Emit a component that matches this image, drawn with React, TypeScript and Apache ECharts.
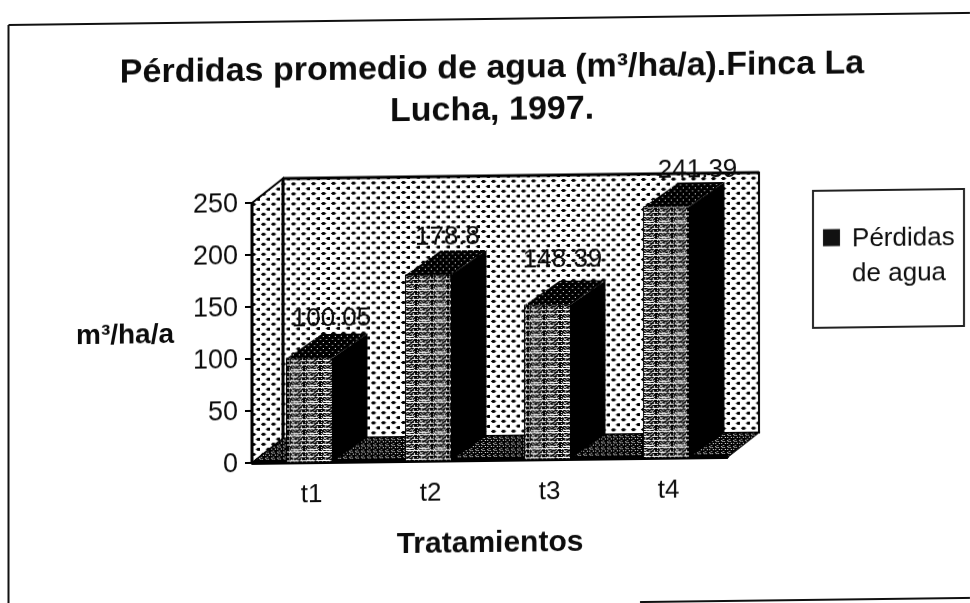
import React, { useEffect, useRef } from "react";
import * as echarts from "echarts";

const categories = ["t1", "t2", "t3", "t4"];
const lossValues = [100.05, 178.8, 148.39, 241.39];
const yTickMax = 250;
const yTickStep = 50;
const titleText = "Pérdidas promedio de agua (m³/ha/a).Finca La\nLucha, 1997.";
const yAxisTitle = "m³/ha/a";
const xAxisTitle = "Tratamientos";
const seriesName = "Pérdidas de agua";

const labelShiftX = [0, -3, -7, 9];
const labelShiftY = [0, 2, -6, 3];

const FONT = '"Liberation Sans", Arial, sans-serif';
const INK = "#0c0c0c";

const wallTile = [
  "..###.....",
  ".#####....",
  "..###.....",
  "..........",
  "..........",
  ".......###",
  "......####",
  ".......###",
  "..........",
  "..........",
];
const frontTile = [
  "##.###.##.####.#",
  "................",
  "#.#.####.#.##.##",
  "####.#.#####.###",
  "#.##..###.#.##.#",
  "###.##.##.####.#",
  "..#.......##....",
  "#####.#.###.####",
  "#.###.####.##.##",
  "###.#.##.####.##",
  "...........#....",
  "##.###.##.####.#",
  "####.##.###.#.##",
  "#.###.####.#.###",
  "###.##.#.###.#.#",
  "#.#...........##",
];
const topTile = [
  "######",
  "##.###",
  "######",
  "######",
  "#####.",
  "######",
];
const floorTile = [
  "##.#.#",
  "######",
  "#.###.",
  "######",
  "###.##",
  "#.####",
];
// icon: a square at the top of a taller box, so that it sits beside the first line of the two-line legend text
const legendIcon = "path://M0 0H17V17H0Z M0 52H0.01V52H0Z";

function makePattern(rows: string[]) {
  const h = rows.length;
  const w = rows[0].length;
  const canvas = document.createElement("canvas");
  canvas.width = w;
  canvas.height = h;
  const ctx = canvas.getContext("2d")!;
  ctx.fillStyle = "#ffffff";
  ctx.fillRect(0, 0, w, h);
  ctx.fillStyle = "#000000";
  rows.forEach((row, y) => {
    row.split("").forEach((c, x) => {
      if (c === "#") ctx.fillRect(x, y, 1, 1);
    });
  });
  return { image: canvas, repeat: "repeat", imageWidth: w, imageHeight: h } as any;
}

export default function App() {
  const ref = useRef<HTMLDivElement>(null);

  useEffect(() => {
    const chart = echarts.init(ref.current!, null, { renderer: "svg" });
    const wallFill = makePattern(wallTile);
    const frontFill = makePattern(frontTile);
    const topFill = makePattern(topTile);
    const floorFill = makePattern(floorTile);
    const wallDx = 31;
    const wallDy = -24;
    const barDx = 35;
    const barDy = -24;

    const renderWalls = (params: any) => {
      const { x, y, width, height } = params.coordSys;
      const b = y + height;
      const r = x + width;
      const line = { stroke: "#000", lineWidth: 2 };
      return {
        type: "group",
        children: [
          {
            type: "polygon",
            shape: { points: [[x + wallDx, y + wallDy], [r + wallDx, y + wallDy], [r + wallDx, b + wallDy], [x + wallDx, b + wallDy]] },
            style: { fill: wallFill, ...line },
          },
          {
            type: "polygon",
            shape: { points: [[x, y], [x + wallDx, y + wallDy], [x + wallDx, b + wallDy], [x, b]] },
            style: { fill: wallFill, ...line },
          },
          {
            type: "polygon",
            shape: { points: [[x, b], [x + wallDx, b + wallDy], [r + wallDx, b + wallDy], [r, b]] },
            style: { fill: floorFill, stroke: "#000", lineWidth: 1 },
          },
          { type: "line", shape: { x1: x + wallDx, y1: y + wallDy, x2: r + wallDx, y2: y + wallDy }, style: { stroke: "#000", lineWidth: 3 } },
          { type: "line", shape: { x1: x + wallDx, y1: y + wallDy, x2: x + wallDx, y2: b + wallDy }, style: { stroke: "#000", lineWidth: 3 } },
          { type: "line", shape: { x1: x, y1: y, x2: x, y2: b }, style: { stroke: "#000", lineWidth: 3 } },
          { type: "line", shape: { x1: x, y1: b, x2: r, y2: b }, style: { stroke: "#000", lineWidth: 4 } },
        ],
      };
    };

    const renderBar = (params: any, api: any) => {
      const value = api.value(1);
      const top = api.coord([api.value(0), value]);
      const base = api.coord([api.value(0), 0]);
      const band = api.size([1, 0])[0];
      const w = band * 0.386;
      const l = top[0] - w / 2 - 2;
      const rr = l + w;
      const i = params.dataIndex;
      return {
        type: "group",
        children: [
          {
            type: "polygon",
            shape: { points: [[rr, top[1]], [rr + barDx, top[1] + barDy], [rr + barDx, base[1] + barDy], [rr, base[1]]] },
            style: { fill: "#000" },
          },
          {
            type: "polygon",
            shape: { points: [[l, top[1]], [l + barDx, top[1] + barDy], [rr + barDx, top[1] + barDy], [rr, top[1]]] },
            style: { fill: topFill },
          },
          {
            type: "rect",
            shape: { x: l, y: top[1], width: w, height: base[1] - top[1] },
            style: { fill: frontFill, stroke: "#000", lineWidth: 1 },
          },
          {
            type: "text",
            style: {
              text: String(value),
              x: top[0] + 20 + labelShiftX[i],
              y: top[1] - 41 + labelShiftY[i],
              align: "center",
              verticalAlign: "middle",
              fontFamily: FONT,
              fontSize: 26,
              fill: INK,
            },
          },
        ],
      };
    };

    chart.setOption({
      animation: false,
      backgroundColor: "#ffffff",
      title: {
        text: titleText,
        left: 487,
        top: 40,
        textAlign: "center",
        textStyle: { fontFamily: FONT, fontSize: 34, fontWeight: "bold", color: INK, lineHeight: 42 },
      },
      grid: { left: 252, top: 200, width: 476, height: 260 },
      xAxis: {
        type: "category",
        data: categories,
        name: xAxisTitle,
        nameLocation: "middle",
        nameGap: 66,
        nameTextStyle: { fontFamily: FONT, fontSize: 30, fontWeight: "bold", color: INK },
        axisLine: { lineStyle: { color: "#000", width: 2 } },
        axisTick: { length: 6, lineStyle: { color: "#000", width: 2 } },
        axisLabel: { fontFamily: FONT, fontSize: 26, color: INK, margin: 18 },
      },
      yAxis: {
        type: "value",
        min: 0,
        max: yTickMax,
        interval: yTickStep,
        name: yAxisTitle,
        nameLocation: "middle",
        nameRotate: 0,
        nameGap: 78,
        nameTextStyle: { fontFamily: FONT, fontSize: 28, fontWeight: "bold", color: INK },
        splitLine: { show: false },
        axisLine: { show: true, lineStyle: { color: "#000", width: 2 } },
        axisTick: { show: true, length: 7, lineStyle: { color: "#000", width: 2 } },
        axisLabel: { fontFamily: FONT, fontSize: 27, color: INK, margin: 14 },
      },
      legend: {
        data: [seriesName],
        orient: "vertical",
        left: 823,
        top: 224.5,
        padding: 0,
        icon: legendIcon,
        itemWidth: 17,
        itemHeight: 52,
        formatter: () => "Pérdidas\nde agua",
        textStyle: { fontFamily: FONT, fontSize: 26, color: INK, lineHeight: 35, padding: [0, 0, 0, 7] },
      },
      series: [
        { type: "custom", silent: true, z: 1, data: [[0, 0]], encode: { x: 0, y: 1 }, renderItem: renderWalls },
        {
          type: "custom",
          name: seriesName,
          z: 2,
          itemStyle: { color: "#111" },
          data: lossValues.map((v, i) => [i, v]),
          encode: { x: 0, y: 1 },
          renderItem: renderBar,
        },
      ],
      graphic: [
        { type: "line", silent: true, shape: { x1: 8.5, y1: 19, x2: 970, y2: 19 }, style: { stroke: "#111", lineWidth: 2 } },
        { type: "line", silent: true, shape: { x1: 8.5, y1: 19, x2: 8.5, y2: 620 }, style: { stroke: "#111", lineWidth: 2 } },
        { type: "line", silent: true, shape: { x1: 640, y1: 604, x2: 970, y2: 604 }, style: { stroke: "#111", lineWidth: 2 } },
        { type: "rect", silent: true, shape: { x: 813, y: 195, width: 151, height: 137 }, style: { fill: "transparent", stroke: "#222", lineWidth: 2 } },
      ],
    });
    return () => chart.dispose();
  }, []);

  return (
    <div
      ref={ref}
      style={{
        position: "fixed",
        left: 0,
        top: 0,
        width: 970,
        height: 620,
        transform: "skewY(-0.72deg)",
        transformOrigin: "485px 301px",
      }}
    />
  );
}
